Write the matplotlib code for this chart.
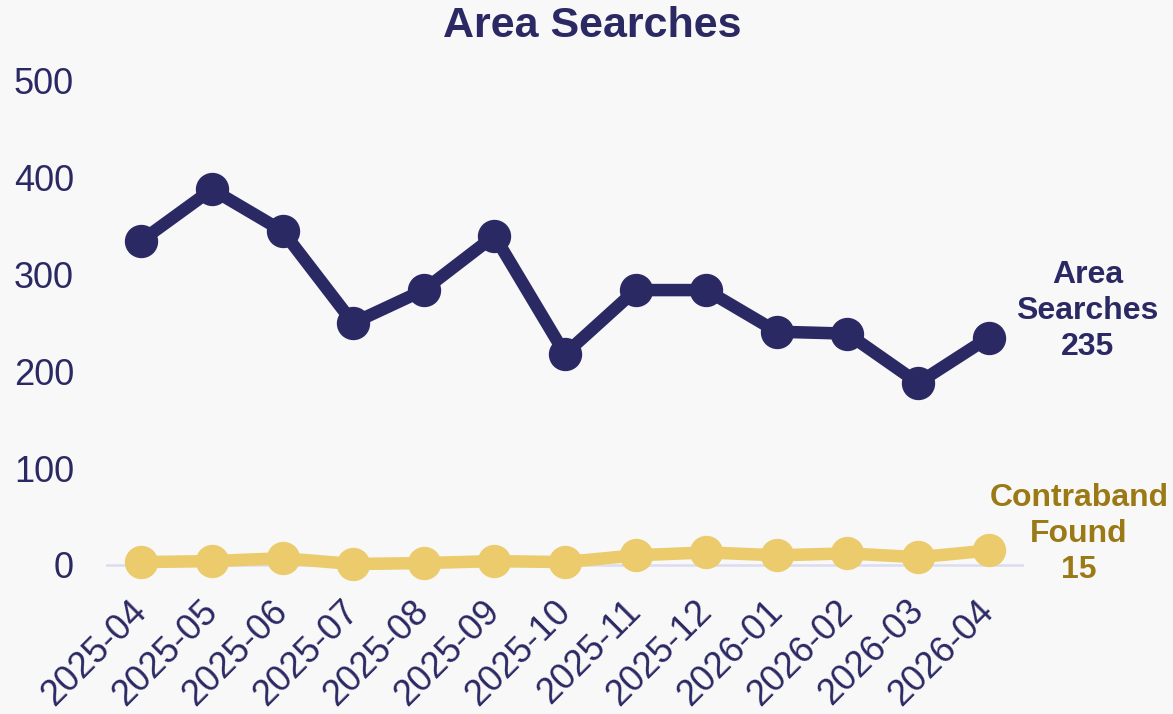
import matplotlib.pyplot as plt

# Monthly values
months = ['2025-04', '2025-05', '2025-06', '2025-07', '2025-08', '2025-09', '2025-10',
          '2025-11', '2025-12', '2026-01', '2026-02', '2026-03', '2026-04']
area_searches = [335, 388, 345, 250, 284, 340, 218, 284, 284, 241, 239, 188, 235]
contraband = [3, 4, 7, 1, 2, 4, 3, 10, 13, 10, 12, 8, 15]
y_ticks = [0, 100, 200, 300, 400, 500]

navy = '#2b2963'
yellow = '#ebcb6b'
gold = '#9b7a16'
bg = '#f8f8f8'

plt.rcParams['font.family'] = ['Liberation Sans', 'DejaVu Sans']

fig = plt.figure(figsize=(11.73, 7.14), dpi=100, facecolor=bg)
ax = fig.add_axes([0.0904, 0.1748, 0.7826, 0.7389], facecolor=bg)

x = list(range(len(months)))

ax.axhline(0, color='#dddbf0', linewidth=1.8, zorder=1)
ax.plot(x, contraband, color=yellow, linewidth=9, marker='o', markersize=23,
        solid_joinstyle='round', zorder=3)
ax.plot(x, area_searches, color=navy, linewidth=9, marker='o', markersize=23,
        solid_joinstyle='round', zorder=4)

ax.set_xlim(-0.5, len(months) - 0.5)
ax.set_ylim(-25, 520)
ax.set_yticks(y_ticks)
ax.set_yticklabels([str(v) for v in y_ticks])
ax.set_xticks(x)
ax.set_xticklabels(months, rotation=45, ha='right', va='center', rotation_mode='anchor')
ax.tick_params(axis='both', length=0, labelsize=26, labelcolor=navy)
ax.tick_params(axis='y', pad=23)
ax.tick_params(axis='x', pad=12)
for s in ax.spines.values():
    s.set_visible(False)

# end-of-line labels
ax.annotate(f'Area\nSearches\n{area_searches[-1]}', xy=(x[-1], area_searches[-1]),
            xytext=(71, 19), textcoords='offset points', ha='center', va='center',
            fontsize=23, fontweight='bold', color=navy, linespacing=1.27,
            annotation_clip=False)
ax.annotate(f'Contraband\nFound\n{contraband[-1]}', xy=(x[-1], contraband[-1]),
            xytext=(65, 12), textcoords='offset points', ha='center', va='center',
            fontsize=23, fontweight='bold', color=gold, linespacing=1.27,
            annotation_clip=False)

fig.text(0.505, 0.963, 'Area Searches', ha='center', va='center',
         fontsize=31, fontweight='bold', color=navy)

plt.savefig('out.png', dpi=100, facecolor=bg)
